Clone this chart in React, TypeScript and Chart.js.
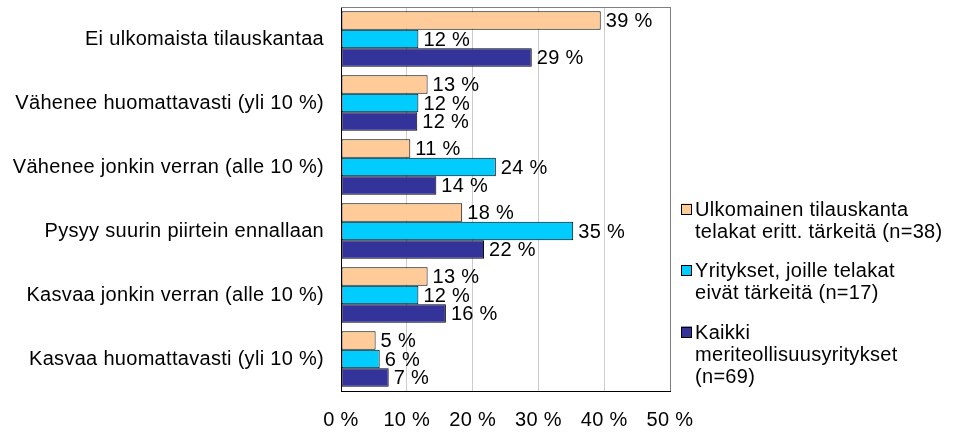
import React, { useEffect, useRef } from 'react';
import { Chart, registerables } from 'chart.js';

Chart.register(...registerables);

const categories = [
  'Ei ulkomaista tilauskantaa',
  'Vähenee huomattavasti (yli 10 %)',
  'Vähenee jonkin verran (alle 10 %)',
  'Pysyy suurin piirtein ennallaan',
  'Kasvaa jonkin verran (alle 10 %)',
  'Kasvaa huomattavasti (yli 10 %)',
];

const seriesLegend = [
  ['Ulkomainen tilauskanta', 'telakat eritt. tärkeitä (n=38)'],
  ['Yritykset, joille telakat', 'eivät tärkeitä (n=17)'],
  ['Kaikki', 'meriteollisuusyritykset', '(n=69)'],
];

const ulkomainen = [39.47, 13.16, 10.53, 18.42, 13.16, 5.26];
const eivatTarkeita = [11.76, 11.76, 23.53, 35.29, 11.76, 5.88];
const kaikki = [28.99, 11.59, 14.49, 21.74, 15.94, 7.25];

const xTicks = [0, 10, 20, 30, 40, 50];

const seriesColors = ['#FFCC99', '#00CCFF', '#333399'];

const FONT_FAMILY = '"Liberation Sans", Arial, sans-serif';
const FONT_SIZE = 20;
const LETTER_SPACING = '0.3px';

const spacingPlugin = {
  id: 'spacing',
  beforeDraw(chart: any) {
    (chart.ctx as any).letterSpacing = LETTER_SPACING;
  },
};

const dataLabelPlugin = {
  id: 'dataLabels',
  afterDatasetsDraw(chart: any) {
    const ctx = chart.ctx;
    ctx.save();
    ctx.letterSpacing = LETTER_SPACING;
    ctx.font = `${FONT_SIZE}px ${FONT_FAMILY}`;
    ctx.fillStyle = '#000';
    ctx.textAlign = 'left';
    ctx.textBaseline = 'middle';
    chart.data.datasets.forEach((ds: any, di: number) => {
      const meta = chart.getDatasetMeta(di);
      meta.data.forEach((bar: any, i: number) => {
        const v = ds.data[i];
        ctx.fillText(`${Math.round(v)} %`, bar.x + 5, bar.y + 1);
      });
    });
    ctx.restore();
  },
};

const frameAndLegendPlugin = {
  id: 'frameAndLegend',
  afterDraw(chart: any) {
    const ctx = chart.ctx;
    const a = chart.chartArea;
    ctx.save();
    ctx.letterSpacing = LETTER_SPACING;
    ctx.strokeStyle = '#808080';
    ctx.lineWidth = 1;
    ctx.beginPath();
    ctx.moveTo(a.left, a.top + 0.5);
    ctx.lineTo(a.right + 0.5, a.top + 0.5);
    ctx.lineTo(a.right + 0.5, a.bottom);
    ctx.stroke();

    // legend
    ctx.font = `${FONT_SIZE}px ${FONT_FAMILY}`;
    ctx.textAlign = 'left';
    ctx.textBaseline = 'middle';
    const lineH = 22;
    const gap = 17.5;
    let y = 209;
    const sqX = 681;
    const sq = 11;
    const textX = 695;
    seriesLegend.forEach((lines, i) => {
      ctx.fillStyle = seriesColors[i];
      ctx.fillRect(sqX, y - sq / 2, sq, sq);
      ctx.strokeStyle = '#000';
      ctx.strokeRect(sqX + 0.5, Math.round(y - sq / 2) + 0.5, sq - 1, sq - 1);
      ctx.fillStyle = '#000';
      lines.forEach((ln, j) => {
        ctx.fillText(ln, textX, y + j * lineH + 1);
      });
      y += (lines.length - 1) * lineH + lineH + gap;
    });
    ctx.restore();
  },
};

export default function App() {
  const canvasRef = useRef<HTMLCanvasElement | null>(null);

  useEffect(() => {
    const canvas = canvasRef.current;
    if (!canvas) return;
    const chart = new Chart(canvas, {
      type: 'bar',
      data: {
        labels: categories,
        datasets: [
          { label: seriesLegend[0].join(' '), data: ulkomainen, backgroundColor: seriesColors[0] },
          { label: seriesLegend[1].join(' '), data: eivatTarkeita, backgroundColor: seriesColors[1] },
          { label: seriesLegend[2].join(' '), data: kaikki, backgroundColor: seriesColors[2] },
        ].map((d) => ({
          ...d,
          borderColor: '#000',
          borderWidth: 1,
          borderSkipped: false,
          categoryPercentage: 0.87,
          barPercentage: 1,
        })),
      },
      options: {
        indexAxis: 'y',
        responsive: false,
        animation: false,
        devicePixelRatio: 1,
        layout: { padding: { top: 7, right: 286, left: 0, bottom: 0 } },
        plugins: {
          legend: { display: false },
          tooltip: { enabled: false },
        },
        scales: {
          x: {
            min: 0,
            max: 50,
            afterBuildTicks(scale: any) {
              scale.ticks = xTicks.map((v) => ({ value: v }));
            },
            afterFit(scale: any) {
              scale.height = 41;
              scale.paddingLeft = 0;
              scale.paddingRight = 0;
            },
            ticks: {
              padding: 17,
              color: '#000',
              font: { family: FONT_FAMILY, size: FONT_SIZE },
              callback: (v: any) => `${v} %`,
              maxRotation: 0,
            },
            grid: {
              drawTicks: false,
              color: (c: any) => (c.tick && c.tick.value === 50 ? '#808080' : '#cccccc'),
            },
            border: { color: '#000', width: 1 },
          },
          y: {
            afterFit(scale: any) {
              scale.width = 341;
              scale.paddingTop = 0;
              scale.paddingBottom = 0;
            },
            ticks: {
              padding: 17,
              color: '#000',
              font: { family: FONT_FAMILY, size: FONT_SIZE },
              autoSkip: false,
            },
            grid: { display: false, drawTicks: false },
            border: { color: '#000', width: 1 },
          },
        },
      },
      plugins: [spacingPlugin, dataLabelPlugin, frameAndLegendPlugin],
    });
    return () => chart.destroy();
  }, []);

  return (
    <div style={{ position: 'absolute', left: 0, top: 0, width: 956, height: 432, background: '#fff' }}>
      <canvas ref={canvasRef} width={956} height={432} style={{ display: 'block' }} />
    </div>
  );
}
